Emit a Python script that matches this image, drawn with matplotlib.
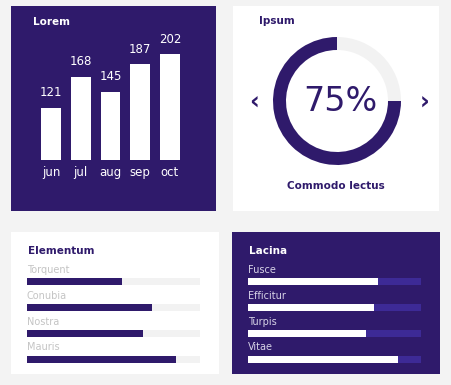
import matplotlib
matplotlib.use("Agg")
import matplotlib.pyplot as plt

plt.rcParams['font.family'] = ['DejaVu Sans']

W, H = 452, 385
PURPLE = "#2f1a6b"
TRACK_DARK = "#3d2a96"
TRACK_LIGHT = "#f2f2f2"
BG = "#f3f3f3"

# data
months = ["jun", "jul", "aug", "sep", "oct"]
month_values = [121, 168, 145, 187, 202]
gauge_pct = 75
gauge_label = "Commodo lectus"
elem_labels = ["Torquent", "Conubia", "Nostra", "Mauris"]
elem_values = [55, 72, 67, 86]
lacina_labels = ["Fusce", "Efficitur", "Turpis", "Vitae"]
lacina_values = [75, 73, 68, 87]


def px_axes(fig, x, y, w, h, **kw):
    return fig.add_axes([x / W, 1 - (y + h) / H, w / W, h / H], **kw)


def panel(fig, x, y, w, h, color):
    ax = px_axes(fig, x, y, w, h)
    ax.set_facecolor(color)
    ax.set_xticks([])
    ax.set_yticks([])
    for s in ax.spines.values():
        s.set_visible(False)
    return ax


fig = plt.figure(figsize=(W / 100, H / 100), dpi=100)
fig.patch.set_facecolor(BG)

# panels
panel(fig, 11, 6, 205, 205, PURPLE)
panel(fig, 233, 6, 206, 205, "white")
panel(fig, 11, 232, 208, 142, "white")
panel(fig, 232, 232, 208, 142, PURPLE)

# 1 - column chart
fig.text(33 / W, 1 - 22 / H, "Lorem", color="white", fontsize=7.5, fontweight="semibold", va="center")
ax1 = px_axes(fig, 36.2, 30, 148.5, 130)
ax1.patch.set_visible(False)
bars = ax1.bar(range(len(months)), month_values, width=0.67, color="white")
ax1.set_xlim(-0.5, 4.5)
ax1.set_ylim(42, 239)
for i, v in enumerate(month_values):
    ax1.annotate(str(v), (i, v), xytext=(0, 8.5), textcoords="offset points",
                 ha="center", va="baseline", color="white", fontsize=8.5)
ax1.set_xticks(range(len(months)))
ax1.set_xticklabels(months, color="white", fontsize=8.5)
ax1.tick_params(length=0, pad=4.5)
ax1.set_yticks([])
for s in ax1.spines.values():
    s.set_visible(False)

# 2 - gauge
fig.text(259 / W, 1 - 21 / H, "Ipsum", color=PURPLE, fontsize=7.5, fontweight="bold", va="center")
ax2 = px_axes(fig, 337 - 64, 101 - 64, 128, 128)
ax2.pie([gauge_pct, 100 - gauge_pct], colors=[PURPLE, TRACK_LIGHT], startangle=90,
        counterclock=True, radius=1, wedgeprops=dict(width=13 / 64, linewidth=0))
ax2.set_xlim(-1, 1)
ax2.set_ylim(-1, 1)
ax2.text(0.05, -0.01, f"{gauge_pct}%", ha="center", va="center", color=PURPLE, fontsize=24)
fig.text(254 / W, 1 - 103 / H, "\u2039", color=PURPLE, fontsize=17, fontweight="bold", ha="center", va="center")
fig.text(425 / W, 1 - 103 / H, "\u203a", color=PURPLE, fontsize=17, fontweight="bold", ha="center", va="center")
fig.text(336 / W, 1 - 186 / H, gauge_label, color=PURPLE, fontsize=7.5, fontweight="bold", ha="center", va="center")


# 3 and 4 - progress bars
def progress(x, labels, values, bar_color, track_color, label_color):
    ax = px_axes(fig, x, 268.8, 173.3, 103.2)
    ax.patch.set_visible(False)
    ys = range(len(labels))
    ax.barh(ys, [100] * len(labels), height=0.27, color=track_color)
    ax.barh(ys, values, height=0.27, color=bar_color)
    for i, lab in enumerate(labels):
        ax.text(0, i - 0.45, lab, color=label_color, fontsize=7, va="center", ha="left")
    ax.set_xlim(0, 100)
    ax.set_ylim(3.5, -0.5)
    ax.axis("off")
    return ax


fig.text(28 / W, 1 - 251 / H, "Elementum", color=PURPLE, fontsize=7.5, fontweight="bold", va="center")
progress(27, elem_labels, elem_values, PURPLE, TRACK_LIGHT, "#c4c4c4")

fig.text(249 / W, 1 - 251 / H, "Lacina", color="white", fontsize=7.5, fontweight="bold", va="center")
progress(247.7, lacina_labels, lacina_values, "white", TRACK_DARK, "#d6d2e6")

fig.savefig("out.png", dpi=100, facecolor=BG)
